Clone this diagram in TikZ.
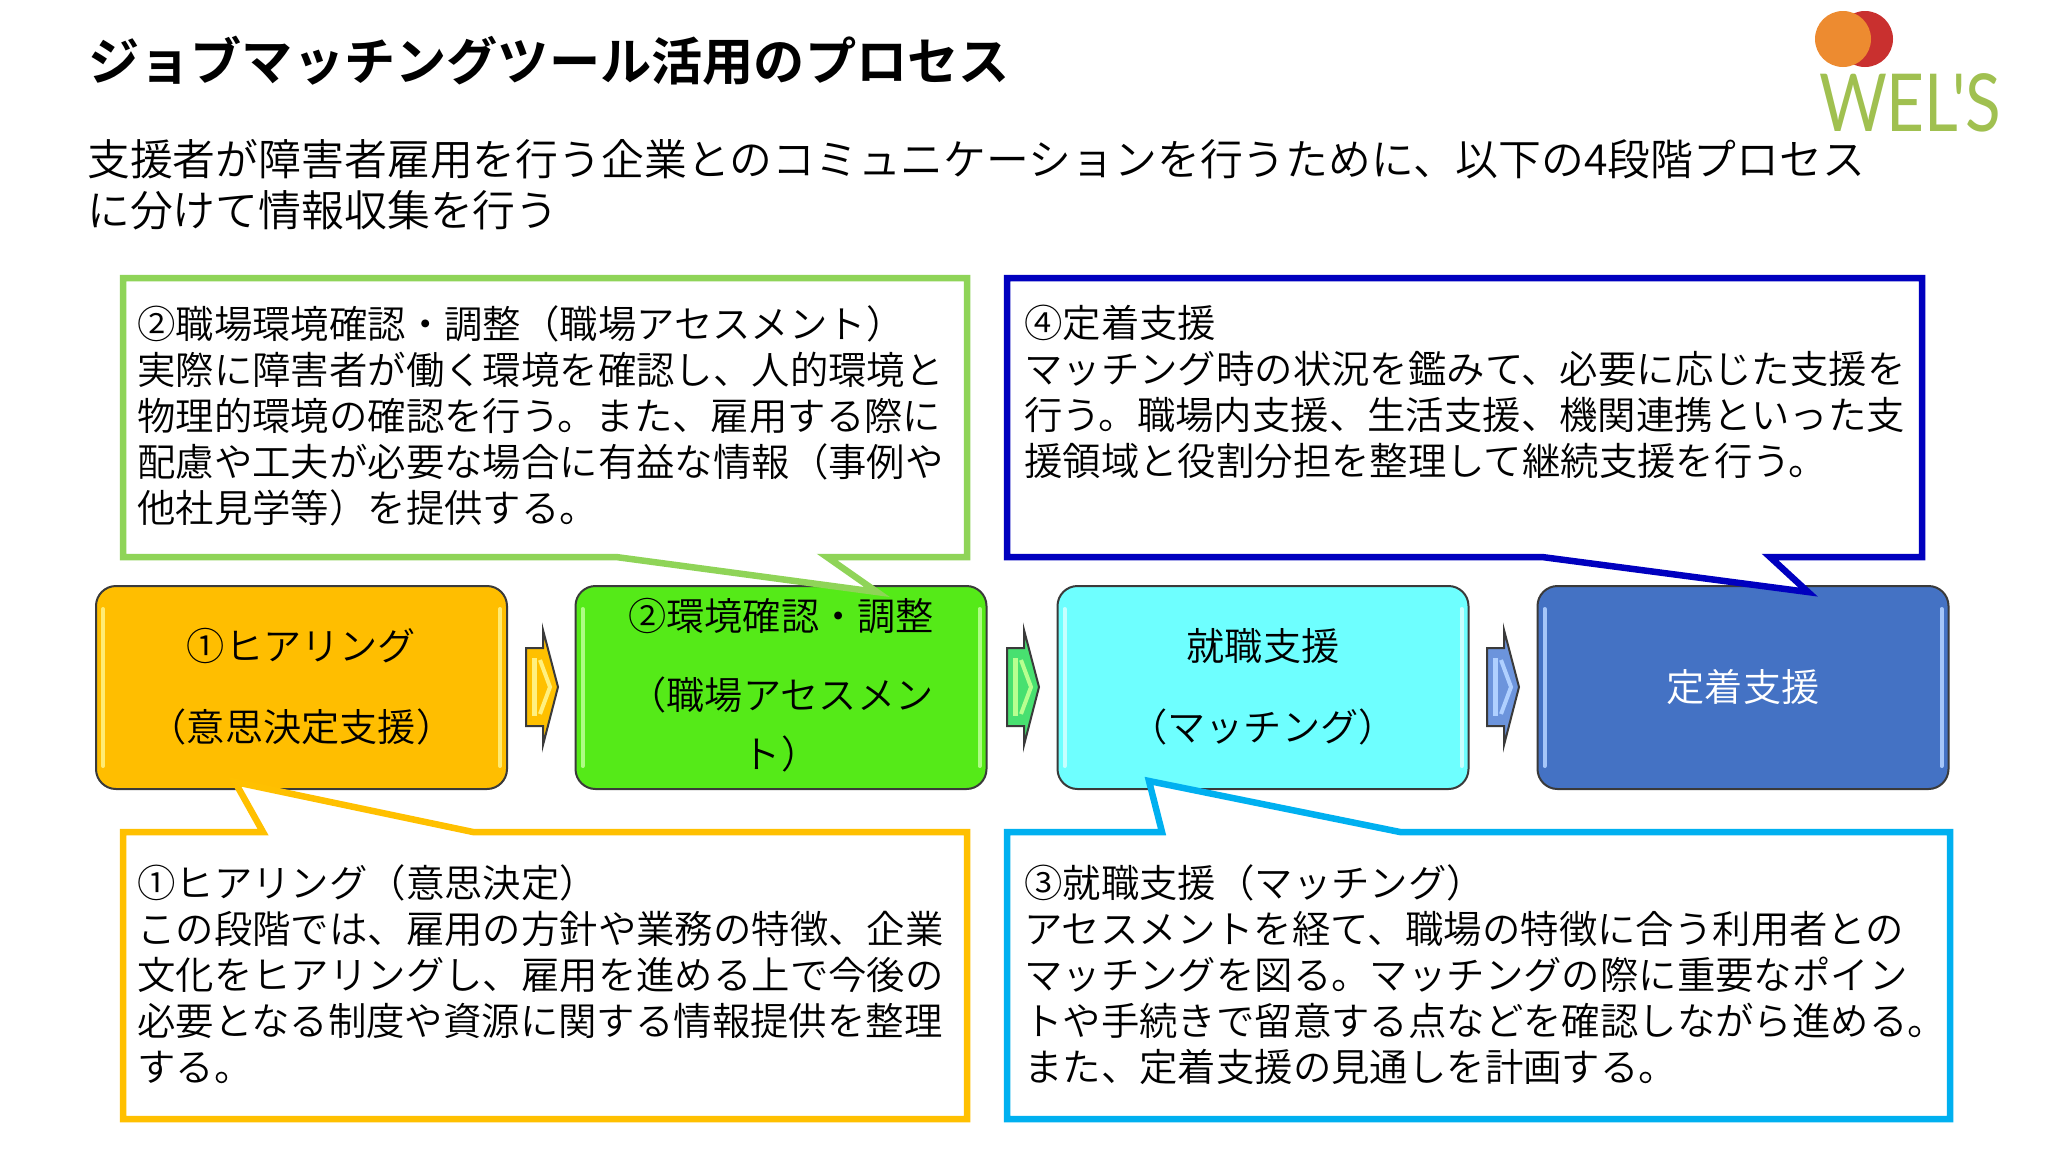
\documentclass[tikz,border=0pt]{standalone}
\usepackage{fontspec}
\setmainfont{Noto Sans CJK JP DemiLight}[BoldFont={Noto Sans CJK JP Bold}]
\newfontfamily\logofont{Lato}
\definecolor{cYel}{HTML}{FFC000}
\definecolor{cGrn}{HTML}{8FD458}
\definecolor{cNav}{HTML}{0000BF}
\definecolor{cCya}{HTML}{00B0F0}
\definecolor{fYel}{HTML}{FFBE00}
\definecolor{fGrn}{HTML}{55EA18}
\definecolor{fCya}{HTML}{6EFFFF}
\definecolor{fBlu}{HTML}{4472C4}
\definecolor{hYel}{HTML}{FFF080}
\definecolor{hGrn}{HTML}{B8FF90}
\definecolor{hCya}{HTML}{D0FFFF}
\definecolor{hBlu}{HTML}{B0D0FF}
\definecolor{aGrn}{HTML}{48E070}
\definecolor{aBlu}{HTML}{6C94DC}
\definecolor{edgeC}{HTML}{3A3A3A}
\tikzset{
  x=1pt,y=-1pt,
  procbox/.style={draw=edgeC,line width=2pt,rounded corners=20pt,minimum width=411pt,minimum height=203pt,inner sep=0pt,align=center,
    font=\fontsize{38.2}{46}\selectfont},
  callout/.style={line width=6.5pt,fill=white,miter limit=10},
  bodytext/.style={anchor=north west,inner sep=0pt,align=left,font=\fontsize{38.4}{46}\selectfont},
}
\newcommand{\bevelbox}[2]{%
  \draw[#2,line width=4pt,line cap=round,opacity=.9] ([shift={(8,24)}]#1.north west) -- ([shift={(8,-24)}]#1.south west);
  \draw[#2,line width=4pt,line cap=round,opacity=.9] ([shift={(-8,24)}]#1.north east) -- ([shift={(-8,-24)}]#1.south east);
}
\newcommand{\blockarrow}[3]{%
  \filldraw[draw=edgeC,fill=#2,line width=2pt,line join=miter] (#1,648) -- (#1+17,648) -- (#1+17,630) -- (#1+32,687) -- (#1+17,745) -- (#1+17,726) -- (#1,726) -- cycle;
  \draw[#3,line width=5pt] (#1+8,658) -- (#1+8,716);
  \draw[#3,line width=4pt] (#1+14,660) -- (#1+24,687) -- (#1+14,714);
}
\begin{document}
\begin{tikzpicture}
\useasboundingbox (0,0) rectangle (2048,1152);
\fill[white] (0,0) rectangle (2048,1152);
% logo
\fill[fill={rgb,255:red,201;green,48;blue,47}] (1865,39) circle (28);
\fill[fill={rgb,255:red,237;green,139;blue,48}] (1843,39) circle (28);
\node[anchor=center,inner sep=0pt,text={rgb,255:red,160;green,192;blue,80}] (logo) at (1910,103) {\scalebox{.82}[1]{\logofont\fontsize{80}{80}\selectfont WEL'S}};
% heading
\node[anchor=west,inner sep=0pt,font=\fontsize{51.2}{60}\selectfont\bfseries] (title) at (88,61) {ジョブマッチングツール活用のプロセス};
\node[anchor=north west,inner sep=0pt,align=left,font=\fontsize{42.85}{51.5}\selectfont] (lead) at (87,139) {支援者が障害者雇用を行う企業とのコミュニケーションを行うために、以下の4段階プロセス\\に分けて情報収集を行う};
% process boxes
\node[procbox,fill=fYel] (b1) at (301.5,687.5) {\raisebox{5pt}{①ヒアリング}\\[35pt]\raisebox{5pt}{（意思決定支援）}};
\node[procbox,fill=fGrn] (b2) at (781,687.5) {};
\node[anchor=north,inner sep=0pt,align=center,font=\fontsize{38.2}{46}\selectfont] (b2t) at (781,598) {②環境確認・調整\\[33pt]（職場アセスメン\\[13pt]ト）};
\node[procbox,fill=fCya] (b3) at (1263,687.5) {\raisebox{5pt}{就職支援}\\[35pt]\raisebox{5pt}{（マッチング）}};
\node[procbox,fill=fBlu,text=white] (b4) at (1743,687.5) {\raisebox{5pt}{定着支援}};
\bevelbox{b1}{hYel}\bevelbox{b2}{hGrn}\bevelbox{b3}{hCya}\bevelbox{b4}{hBlu}
% block arrows
\blockarrow{526}{cYel}{hYel}
\blockarrow{1007}{aGrn}{hGrn}
\blockarrow{1487}{aBlu}{hBlu}
% callouts
\filldraw[callout,draw=cGrn] (123,278) -- (967,278) -- (967,557) -- (827,557) -- (877,592) -- (616,557) -- (123,557) -- cycle;
\filldraw[callout,draw=cNav] (1007,278) -- (1922,278) -- (1922,557) -- (1770,557) -- (1808,592) -- (1542,557) -- (1007,557) -- cycle;
\filldraw[callout,draw=cYel] (123,832) -- (263,832) -- (235,782) -- (473,832) -- (967,832) -- (967,1119) -- (123,1119) -- cycle;
\filldraw[callout,draw=cCya] (1007,832) -- (1162,832) -- (1149,781) -- (1400,832) -- (1950,832) -- (1950,1119) -- (1007,1119) -- cycle;
% callout texts
\node[bodytext] (t2) at (137,305) {②職場環境確認・調整（職場アセスメント）\\実際に障害者が働く環境を確認し、人的環境と\\物理的環境の確認を行う。また、雇用する際に\\配慮や工夫が必要な場合に有益な情報（事例や\\他社見学等）を提供する。};
\node[bodytext] (t4) at (1024,305) {④定着支援\\マッチング時の状況を鑑みて、必要に応じた支援を\\行う。職場内支援、生活支援、機関連携といった支\\援領域と役割分担を整理して継続支援を行う。};
\node[bodytext] (t1) at (137,864) {①ヒアリング（意思決定）\\この段階では、雇用の方針や業務の特徴、企業\\文化をヒアリングし、雇用を進める上で今後の\\必要となる制度や資源に関する情報提供を整理\\する。};
\node[bodytext] (t3) at (1024,864) {③就職支援（マッチング）\\アセスメントを経て、職場の特徴に合う利用者との\\マッチングを図る。マッチングの際に重要なポイン\\トや手続きで留意する点などを確認しながら進める。\\また、定着支援の見通しを計画する。};
\end{tikzpicture}
\end{document}
